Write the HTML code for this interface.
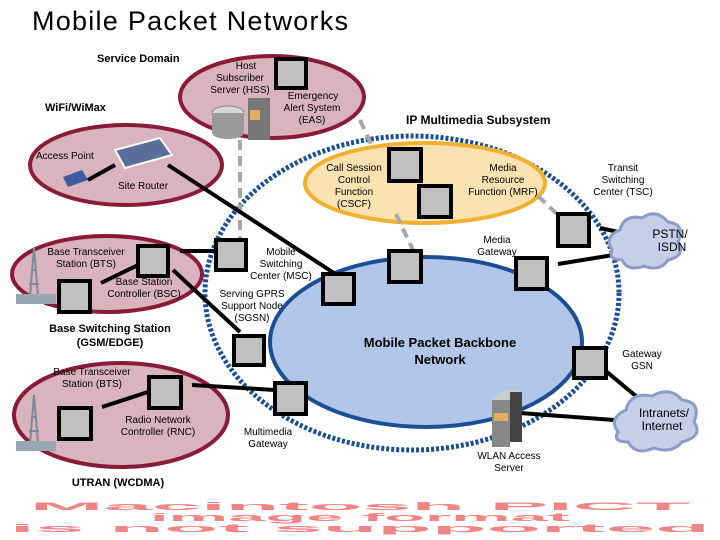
<!DOCTYPE html>
<html><head><meta charset="utf-8"><style>
html,body{margin:0;padding:0;background:#fff;}
svg{display:block;}
text{font-family:"Liberation Sans",sans-serif;fill:#000;}
.s{font-size:10px;}
.b{font-size:11px;font-weight:bold;}
.sq{fill:#c0c0c0;stroke:#000;stroke-width:4;}
.ln{stroke:#000;stroke-width:4;fill:none;}
.gd{stroke:#a8a8a8;stroke-width:4;stroke-dasharray:10,6;fill:none;}
.pk{fill:#d9b3bd;stroke:#8a1a3a;stroke-width:4;}
.wm{font-size:22px;font-weight:bold;fill:#f08585;}
</style></head><body>
<svg width="720" height="540" viewBox="0 0 720 540" xmlns="http://www.w3.org/2000/svg">
<text x="32" y="30" style="font-size:27px" textLength="316">Mobile Packet Networks</text>

<!-- big dotted circle -->
<ellipse cx="412" cy="293" rx="207" ry="157" fill="none" stroke="#1a4f96" stroke-width="5" stroke-dasharray="3,2"/>
<!-- backbone -->
<ellipse cx="426" cy="342" rx="156" ry="85" fill="#b1c6e8" stroke="#1a4f96" stroke-width="4"/>
<!-- IMS -->
<ellipse cx="425" cy="183" rx="120" ry="40" fill="#fae3b0" stroke="#f0b030" stroke-width="4"/>
<!-- pink ellipses -->
<ellipse class="pk" cx="272" cy="97" rx="92" ry="41"/>
<ellipse class="pk" cx="126" cy="165" rx="96" ry="40"/>
<ellipse class="pk" cx="107" cy="274" rx="95" ry="38"/>
<ellipse class="pk" cx="121" cy="415" rx="107" ry="52"/>

<!-- gray dashed -->
<line class="gd" x1="240" y1="140" x2="240" y2="240"/>
<line class="gd" x1="360" y1="120" x2="372" y2="146"/>
<line class="gd" x1="396" y1="214" x2="413" y2="250"/>
<line class="gd" x1="538" y1="196" x2="557" y2="214"/>

<!-- black lines -->
<line class="ln" x1="88" y1="180" x2="115" y2="165"/>
<line class="ln" x1="168" y1="165" x2="337" y2="275"/>
<line class="ln" x1="180" y1="251" x2="216" y2="251"/>
<line class="ln" x1="101" y1="283" x2="138" y2="265"/>
<line class="ln" x1="173" y1="270" x2="240" y2="332"/>
<line class="ln" x1="102" y1="407" x2="148" y2="392"/>
<line class="ln" x1="192" y1="385" x2="275" y2="390"/>
<line class="ln" x1="600" y1="228" x2="632" y2="235"/>
<line class="ln" x1="558" y1="264" x2="638" y2="251"/>
<line class="ln" x1="607" y1="372" x2="637" y2="397"/>
<line class="ln" x1="520" y1="413" x2="614" y2="420"/>

<!-- squares -->
<rect class="sq" x="276" y="59" width="30" height="29"/>
<rect class="sq" x="138" y="246" width="30" height="30"/>
<rect class="sq" x="216" y="240" width="30" height="30"/>
<rect class="sq" x="59" y="281" width="31" height="31"/>
<rect class="sq" x="323" y="274" width="31" height="30"/>
<rect class="sq" x="234" y="336" width="30" height="29"/>
<rect class="sq" x="149" y="377" width="32" height="31"/>
<rect class="sq" x="59" y="408" width="32" height="31"/>
<rect class="sq" x="275" y="383" width="31" height="31"/>
<rect class="sq" x="389" y="149" width="32" height="32"/>
<rect class="sq" x="419" y="186" width="32" height="31"/>
<rect class="sq" x="389" y="251" width="32" height="31"/>
<rect class="sq" x="516" y="258" width="31" height="31"/>
<rect class="sq" x="558" y="214" width="31" height="32"/>
<rect class="sq" x="574" y="348" width="32" height="30"/>

<!-- clouds -->
<g fill="#c6cfe8" stroke="#8c9cc8" stroke-width="3">
<path d="M612 250 q-8-14 8-20 q4-16 22-12 q14-10 26 4 q18 2 10 20 q8 14-10 18 q-8 12-24 6 q-16 6-22-6 q-14 0-10-10z"/>
<path d="M618 432 q-10-14 8-22 q4-18 26-14 q18-10 30 4 q20 2 12 22 q10 14-12 20 q-10 12-28 6 q-18 8-26-6 q-16 0-10-10z"/>
</g>

<!-- HSS db and server -->
<ellipse cx="228" cy="113" rx="16" ry="7" fill="#d8d8d8" stroke="#888"/>
<path d="M212 113 v20 a16 6 0 0 0 32 0 v-20" fill="#9a9a9a"/>
<rect x="248" y="98" width="22" height="42" fill="#777"/>
<rect x="250" y="110" width="10" height="10" fill="#e0b060"/>
<!-- router & AP -->
<polygon points="115,150 160,138 172,155 125,168" fill="#5a6e9a" stroke="#fff" stroke-width="2"/>
<polygon points="63,177 82,170 88,180 68,187" fill="#3e5c9c"/>
<!-- towers -->
<g stroke="#7c8a9a" stroke-width="2" fill="none">
<path d="M30 296 L34 248 L38 296 M27 296 L41 296 M31 270 L37 270 M29 284 L39 284 M32 260 L36 260"/>
<path d="M30 443 L34 395 L38 443 M27 443 L41 443 M31 417 L37 417 M29 431 L39 431 M32 407 L36 407"/>
</g>
<rect x="16" y="294" width="40" height="10" fill="#9aa6b2"/>
<rect x="16" y="441" width="40" height="10" fill="#9aa6b2"/>
<!-- WLAN server -->
<polygon points="492,400 505,390 522,390 509,400" fill="#ccc"/>
<rect x="492" y="400" width="18" height="47" fill="#888"/>
<rect x="510" y="392" width="12" height="50" fill="#444"/>
<rect x="494" y="413" width="14" height="8" fill="#e0b060"/>

<!-- labels -->
<text class="b" x="97" y="62">Service Domain</text>
<text class="b" x="45" y="111">WiFi/WiMax</text>
<text class="b" x="406" y="124" style="font-size:12px">IP Multimedia Subsystem</text>
<text class="s" x="246" y="69" text-anchor="middle">Host</text>
<text class="s" x="240" y="81" text-anchor="middle">Subscriber</text>
<text class="s" x="240" y="93" text-anchor="middle">Server (HSS)</text>
<text class="s" x="313" y="99" text-anchor="middle">Emergency</text>
<text class="s" x="312" y="111" text-anchor="middle">Alert System</text>
<text class="s" x="312" y="123" text-anchor="middle">(EAS)</text>
<text class="s" x="36" y="159">Access Point</text>
<text class="s" x="118" y="189">Site Router</text>
<text class="s" x="354" y="171" text-anchor="middle">Call Session</text>
<text class="s" x="354" y="183" text-anchor="middle">Control</text>
<text class="s" x="354" y="195" text-anchor="middle">Function</text>
<text class="s" x="354" y="207" text-anchor="middle">(CSCF)</text>
<text class="s" x="503" y="171" text-anchor="middle">Media</text>
<text class="s" x="503" y="183" text-anchor="middle">Resource</text>
<text class="s" x="503" y="195" text-anchor="middle">Function (MRF)</text>
<text class="s" x="623" y="171" text-anchor="middle">Transit</text>
<text class="s" x="623" y="183" text-anchor="middle">Switching</text>
<text class="s" x="623" y="195" text-anchor="middle">Center (TSC)</text>
<text class="s" x="497" y="243" text-anchor="middle">Media</text>
<text class="s" x="497" y="255" text-anchor="middle">Gateway</text>
<text x="670" y="238" text-anchor="middle" style="font-size:12px">PSTN/</text>
<text x="672" y="251" text-anchor="middle" style="font-size:12px">ISDN</text>
<text class="s" x="86" y="255" text-anchor="middle">Base Transceiver</text>
<text class="s" x="86" y="267" text-anchor="middle">Station (BTS)</text>
<text class="s" x="144" y="285" text-anchor="middle">Base Station</text>
<text class="s" x="144" y="297" text-anchor="middle">Controller (BSC)</text>
<text class="s" x="281" y="255" text-anchor="middle">Mobile</text>
<text class="s" x="281" y="267" text-anchor="middle">Switching</text>
<text class="s" x="281" y="279" text-anchor="middle">Center (MSC)</text>
<text class="s" x="252" y="297" text-anchor="middle">Serving GPRS</text>
<text class="s" x="252" y="309" text-anchor="middle">Support Node</text>
<text class="s" x="252" y="321" text-anchor="middle">(SGSN)</text>
<text class="b" x="110" y="332" text-anchor="middle">Base Switching Station</text>
<text class="b" x="110" y="346" text-anchor="middle">(GSM/EDGE)</text>
<text x="440" y="347" text-anchor="middle" style="font-size:13px;font-weight:bold">Mobile Packet Backbone</text>
<text x="440" y="364" text-anchor="middle" style="font-size:13px;font-weight:bold">Network</text>
<text class="s" x="642" y="357" text-anchor="middle">Gateway</text>
<text class="s" x="642" y="369" text-anchor="middle">GSN</text>
<text class="s" x="92" y="375" text-anchor="middle">Base Transceiver</text>
<text class="s" x="92" y="387" text-anchor="middle">Station (BTS)</text>
<text class="s" x="158" y="423" text-anchor="middle">Radio Network</text>
<text class="s" x="158" y="435" text-anchor="middle">Controller (RNC)</text>
<text class="s" x="268" y="435" text-anchor="middle">Multimedia</text>
<text class="s" x="268" y="447" text-anchor="middle">Gateway</text>
<text x="664" y="417" text-anchor="middle" style="font-size:12px">Intranets/</text>
<text x="662" y="430" text-anchor="middle" style="font-size:12px">Internet</text>
<text class="s" x="509" y="459" text-anchor="middle">WLAN Access</text>
<text class="s" x="509" y="471" text-anchor="middle">Server</text>
<text class="b" x="118" y="486" text-anchor="middle">UTRAN (WCDMA)</text>

<!-- watermark -->
<g transform="scale(1,0.5)">
<text class="wm" x="360" y="1020" text-anchor="middle" textLength="660" lengthAdjust="spacingAndGlyphs">Macintosh PICT</text>
<text class="wm" x="360" y="1042" text-anchor="middle" textLength="420" lengthAdjust="spacingAndGlyphs">image format</text>
<text class="wm" x="360" y="1064" text-anchor="middle" textLength="700" lengthAdjust="spacingAndGlyphs">is not supported</text>
</g>
</svg>
</body></html>
